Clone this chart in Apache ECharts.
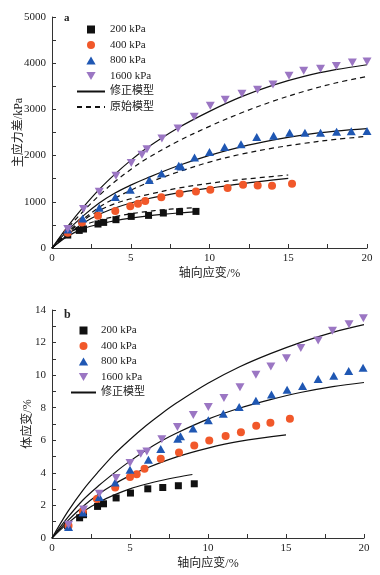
<!DOCTYPE html>
<html><head><meta charset="utf-8">
<script src="https://cdn.jsdelivr.net/npm/echarts@6/dist/echarts.min.js"></script>
<style>html,body{margin:0;padding:0;background:#fff}#c{width:380px;height:575px}</style>
</head><body><div id="c"></div>
<script>
// ---------- Panel a: deviator stress (kPa) vs axial strain (%) ----------
const a200x = [1, 1.73, 2, 2.92, 3.28, 4.06, 5.03, 6.13, 7.07, 8.1, 9.14];
const a200y = [280, 381, 411, 519, 554, 613, 684, 706, 757, 786, 792];
const a400x = [1, 1.9, 2.92, 4.02, 4.97, 5.46, 5.92, 6.94, 8.1, 9.14, 10.05, 11.15, 12.13, 13.06, 13.97, 15.24];
const a400y = [330, 554, 700, 800, 901, 958, 1020, 1100, 1178, 1222, 1262, 1299, 1370, 1355, 1348, 1392];
const a800x = [1, 1.95, 3.0, 4.02, 4.97, 6.18, 6.95, 8.05, 8.2, 9.05, 10.0, 10.96, 12.0, 13.0, 14.07, 15.09, 16.06, 17.05, 18.07, 19.0, 20.0];
const a800y = [400, 640, 872, 1104, 1262, 1470, 1615, 1780, 1766, 1961, 2077, 2186, 2247, 2402, 2430, 2492, 2492, 2492, 2514, 2525, 2532];
const a1600x = [1, 2.0, 3.0, 4.06, 5.03, 5.71, 6.03, 6.98, 8.0, 9.03, 10.05, 11.0, 12.06, 13.05, 14.03, 15.05, 15.98, 17.05, 18.05, 19.07, 20.0];
const a1600y = [411, 844, 1219, 1565, 1840, 2020, 2140, 2372, 2589, 2842, 3080, 3210, 3340, 3426, 3541, 3729, 3838, 3881, 3939, 4017, 4039];

// modified model (solid) and original model (dashed)
const am200x = [0, 1, 2, 3, 4, 5, 6, 7, 8, 9];
const am200y = [0, 255, 420, 520, 590, 645, 690, 727, 757, 782];
const ad200y = [0, 300, 490, 600, 680, 740, 788, 826, 852, 870];
const am400x = [0, 1, 2, 3, 4, 5, 6, 8, 10, 12, 15];
const am400y = [0, 290, 540, 730, 866, 974, 1060, 1195, 1295, 1390, 1505];
const ad400y = [0, 320, 600, 810, 960, 1065, 1150, 1295, 1400, 1482, 1580];
const am800x = [0, 1, 2, 3, 4, 5, 6, 8, 10, 12, 14, 16, 18, 20];
const am800y = [0, 380, 700, 974, 1190, 1360, 1510, 1780, 2005, 2190, 2335, 2450, 2530, 2585];
const ad800y = [0, 340, 630, 880, 1080, 1250, 1400, 1645, 1860, 2030, 2160, 2265, 2350, 2416];
const am1600x = [0, 1, 2, 3, 4, 5, 6, 8, 10, 12, 14, 16, 18, 20];
const am1600y = [0, 470, 890, 1270, 1600, 1897, 2160, 2597, 2957, 3270, 3520, 3714, 3859, 3967];
const ad1600y = [0, 430, 800, 1140, 1440, 1700, 1930, 2310, 2633, 2922, 3173, 3390, 3571, 3714];

// ---------- Panel b: volumetric strain (%) vs axial strain (%) ----------
const b200x = [1, 1.77, 2.02, 2.92, 3.3, 4.11, 5.03, 6.14, 7.1, 8.1, 9.12];
const b200y = [0.75, 1.24, 1.43, 1.94, 2.1, 2.46, 2.76, 3.02, 3.1, 3.21, 3.33];
const b400x = [1.06, 1.98, 2.88, 4.05, 5.0, 5.43, 5.93, 6.97, 8.14, 9.12, 10.08, 11.13, 12.11, 13.09, 14.0, 15.25];
const b400y = [0.75, 1.63, 2.39, 3.1, 3.74, 3.92, 4.25, 4.87, 5.25, 5.68, 5.99, 6.26, 6.5, 6.89, 7.08, 7.32];
const b800x = [1.06, 1.98, 3.03, 4.05, 5.0, 6.18, 6.97, 8.06, 8.24, 9.04, 10.02, 10.98, 12.0, 13.07, 14.07, 15.07, 16.06, 17.06, 18.06, 19.02, 19.94];
const b800y = [0.68, 1.57, 2.51, 3.41, 4.19, 4.8, 5.46, 6.09, 6.25, 6.72, 7.23, 7.63, 8.04, 8.42, 8.81, 9.1, 9.34, 9.77, 9.96, 10.25, 10.45];
const b1600x = [1.06, 2.02, 3.03, 4.11, 5.0, 5.69, 6.08, 7.04, 8.04, 9.06, 10.02, 11.02, 12.05, 13.07, 14.03, 15.03, 15.95, 17.06, 17.98, 19.04, 19.96];
const b1600y = [0.82, 1.75, 2.72, 3.68, 4.6, 5.17, 5.31, 6.07, 6.81, 7.56, 8.04, 8.59, 9.26, 10.02, 10.53, 11.04, 11.66, 12.12, 12.72, 13.13, 13.5];

const bm200x = [0, 1, 2, 3, 4, 5, 6, 7, 8, 9];
const bm200y = [0, 0.9, 1.63, 2.2, 2.65, 3.02, 3.3, 3.53, 3.73, 3.9];
const bm400x = [0, 1, 2, 3, 4, 5, 6, 8, 10, 12, 15];
const bm400y = [0, 1.05, 1.95, 2.7, 3.32, 3.83, 4.27, 4.98, 5.52, 5.93, 6.33];
const bm800x = [0, 1, 2, 3, 4, 5, 6, 7, 8, 10, 12, 14, 16, 18, 20];
const bm800y = [0, 1.25, 2.35, 3.22, 4.0, 4.72, 5.37, 5.95, 6.45, 7.3, 7.97, 8.5, 8.95, 9.3, 9.55];
const bm1600x = [0, 1, 2, 3, 4, 5, 6, 7, 8, 10, 12, 14, 16, 18, 20];
const bm1600y = [0, 1.6, 2.96, 4.1, 5.15, 6.05, 6.88, 7.62, 8.3, 9.5, 10.5, 11.32, 12.03, 12.63, 13.1];

// labels
const names = ['200 kPa', '400 kPa', '800 kPa', '1600 kPa'];
const modName = '修正模型';
const origName = '原始模型';
const xName = '轴向应变/%';
const yNameA = '主应力差/kPa';
const yNameB = '体应变/%';

const SERIF = "'Liberation Serif','Noto Sans CJK SC',serif";
const zip = (xs, ys) => xs.map((x, i) => [x, ys[i]]);
const colors = ['#111111', '#f1582a', '#1f57b3', '#9b76c3'];
const symbols = ['path://M0,0L10,0L10,10L0,10Z', 'circle', 'path://M5,0L10,8.66L0,8.66Z', 'path://M0,0L10,0L5,8.66Z'];
const sizes = [7, 8, [9, 8], [9, 8]];

function scatter(i, gi, xs, ys) {
  return { type: 'scatter', name: names[i], xAxisIndex: gi, yAxisIndex: gi, data: zip(xs, ys),
    symbol: symbols[i], symbolSize: sizes[i], itemStyle: { color: colors[i], opacity: 1 }, z: 3 };
}
function line(name, gi, xs, ys, dashed) {
  return { type: 'line', name: name, xAxisIndex: gi, yAxisIndex: gi, data: zip(xs, ys),
    symbol: 'none', smooth: 0.35, z: 2,
    lineStyle: { color: '#111', width: 1.2, type: dashed ? [5, 4] : 'solid' }, itemStyle: { color: '#111' } };
}
const axLineStyle = { color: '#333', width: 1 };
function xAx(gi) {
  return { type: 'value', gridIndex: gi, min: 0, max: 20, interval: 5,
    name: xName, nameLocation: 'middle', nameGap: 20, nameMoveOverlap: false,
    nameTextStyle: { fontFamily: SERIF, fontSize: 12, color: '#222' },
    axisLine: { show: true, onZero: false, lineStyle: axLineStyle },
    axisTick: { show: true, inside: true, length: 4, lineStyle: axLineStyle },
    minorTick: { show: true, splitNumber: 2, length: 4, lineStyle: axLineStyle },
    splitLine: { show: false },
    axisLabel: { margin: 5, fontFamily: SERIF, fontSize: 11, color: '#222', formatter: v => String(v) } };
}
function yAx(gi, max, interval, name, gap) {
  return { type: 'value', gridIndex: gi, min: 0, max: max, interval: interval,
    name: name, nameLocation: 'middle', nameGap: gap, nameRotate: 90, nameMoveOverlap: false,
    nameTextStyle: { fontFamily: SERIF, fontSize: 12, color: '#222' },
    axisLine: { show: true, onZero: false, lineStyle: axLineStyle },
    axisTick: { show: true, inside: true, length: 4, lineStyle: axLineStyle },
    minorTick: { show: true, splitNumber: 2, length: 4, lineStyle: axLineStyle },
    splitLine: { show: false },
    axisLabel: { margin: 6, fontFamily: SERIF, fontSize: 11, color: '#222', formatter: v => String(v) } };
}

const series = [
  scatter(0, 0, a200x, a200y), scatter(1, 0, a400x, a400y), scatter(2, 0, a800x, a800y), scatter(3, 0, a1600x, a1600y),
  line(modName, 0, am200x, am200y, false), line(origName, 0, am200x, ad200y, true),
  line(modName, 0, am400x, am400y, false), line(origName, 0, am400x, ad400y, true),
  line(modName, 0, am800x, am800y, false), line(origName, 0, am800x, ad800y, true),
  line(modName, 0, am1600x, am1600y, false), line(origName, 0, am1600x, ad1600y, true),
  scatter(0, 1, b200x, b200y), scatter(1, 1, b400x, b400y), scatter(2, 1, b800x, b800y), scatter(3, 1, b1600x, b1600y),
  line(modName, 1, bm200x, bm200y, false), line(modName, 1, bm400x, bm400y, false),
  line(modName, 1, bm800x, bm800y, false), line(modName, 1, bm1600x, bm1600y, false)
];

const hideSym = { opacity: 0, color: 'rgba(0,0,0,0)', borderWidth: 0 };
const legendText = { fontFamily: SERIF, fontSize: 11, color: '#222' };
const option = {
  backgroundColor: '#ffffff',
  animation: false,
  title: [
    { text: 'a', left: 64, top: 13, padding: 0, textStyle: { fontFamily: SERIF, fontSize: 11, fontWeight: 'bold', color: '#222' } },
    { text: 'b', left: 64, top: 309, padding: 0, textStyle: { fontFamily: SERIF, fontSize: 12, fontWeight: 'bold', color: '#222' } }
  ],
  grid: [
    { left: 52, top: 17, width: 315, height: 231 },
    { left: 52, top: 310, width: 312, height: 228 }
  ],
  legend: [
    { left: 76, top: 24, orient: 'vertical', itemWidth: 28, itemHeight: 8, itemGap: 4.5, padding: 0,
      data: names.concat([{ name: modName, itemStyle: hideSym }, { name: origName, itemStyle: hideSym }]),
      textStyle: legendText, selectedMode: false },
    { left: 70, top: 325, orient: 'vertical', itemWidth: 25, itemHeight: 8, itemGap: 4.5, padding: 0,
      data: names.concat([{ name: modName, itemStyle: hideSym }]),
      textStyle: legendText, selectedMode: false }
  ],
  xAxis: [xAx(0), xAx(1)],
  yAxis: [yAx(0, 5000, 1000, yNameA, 27), yAx(1, 14, 2, yNameB, 18)],
  series: series
};
const chart = echarts.init(document.getElementById('c'), null, { renderer: 'canvas' });
chart.setOption(option);
</script></body></html>
